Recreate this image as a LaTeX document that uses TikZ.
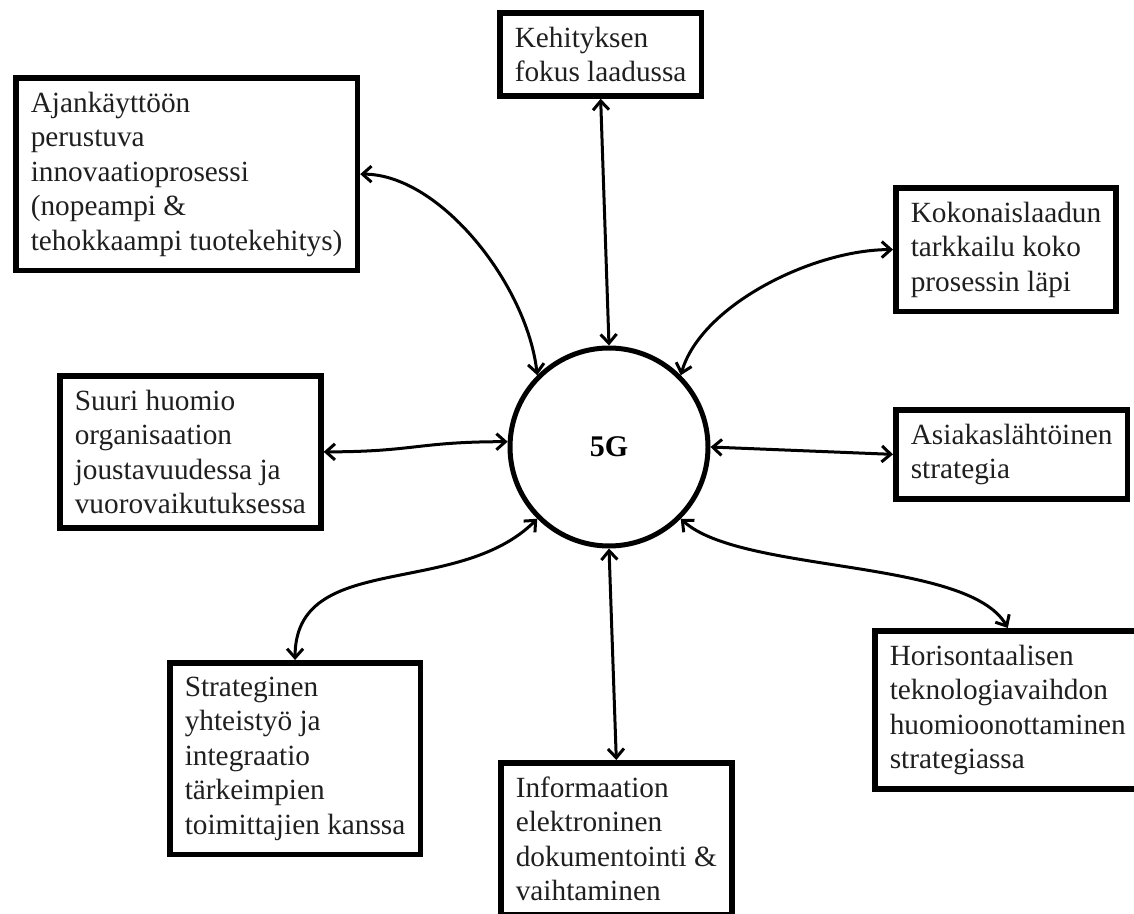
\documentclass[tikz,border=0pt]{standalone}
\usepackage{fontspec}
\setmainfont{Liberation Serif}
\usetikzlibrary{arrows.meta}
\begin{document}
\begin{tikzpicture}[x=0.5pt,y=-0.5pt,
  box/.style={draw, line width=2.8pt, anchor=north west, align=left,
    inner xsep=7.5pt, inner ysep=7pt, text=black!88,
    font=\fontsize{14.65}{17.25}\selectfont},
  hub/.style={draw, circle, line width=2.5pt, minimum size=99pt, inner sep=0pt,
    font=\fontsize{15}{18}\selectfont\bfseries},
  link/.style={line width=1.5pt,
    {Straight Barb[length=4.5pt,width=8pt]}-{Straight Barb[length=4.5pt,width=8pt]}}]
\useasboundingbox (0,0) rectangle (1134,914);

% central hub
\node[hub] (C) at (609,447) {5G};

% surrounding factors
\node[box] (A)  at (13,75)   {Ajankäyttöön\\perustuva\\innovaatioprosessi\\(nopeampi \&\\tehokkaampi tuotekehitys)};
\node[box] (K)  at (497,10)  {Kehityksen\\fokus laadussa};
\node[box] (Ko) at (893,185) {Kokonaislaadun\\tarkkailu koko\\prosessin läpi};
\node[box] (S)  at (57,373)  {Suuri huomio\\organisaation\\joustavuudessa ja\\vuorovaikutuksessa};
\node[box] (As) at (893,407) {Asiakaslähtöinen\\strategia};
\node[box] (St) at (167,660) {Strateginen\\yhteistyö ja\\integraatio\\tärkeimpien\\toimittajien kanssa};
\node[box] (I)  at (498,760) {Informaation\\elektroninen\\dokumentointi \&\\vaihtaminen};
\node[box] (H)  at (872,628) {Horisontaalisen\\teknologiavaihdon\\huomioonottaminen\\strategiassa};

% two-way links to the hub
\draw[link] (A.east) .. controls +(80,0) and +(-10,-90) .. (C.135);
\draw[link] (K.south) -- (C.north);
\draw[link] (Ko.west) .. controls +(-80,0) and +(20,-70) .. (C.45);
\draw[link] (S.east) .. controls +(90,0) and +(-90,0) .. (C.177);
\draw[link] (C.east) -- (As.west);
\draw[link] (St.north) .. controls +(0,-110) and +(-80,80) .. (C.225);
\draw[link] (C.south) -- (I.north);
\draw[link] (C.-45) .. controls +(60,55) and +(-40,-70) .. (H.north);
\end{tikzpicture}
\end{document}
